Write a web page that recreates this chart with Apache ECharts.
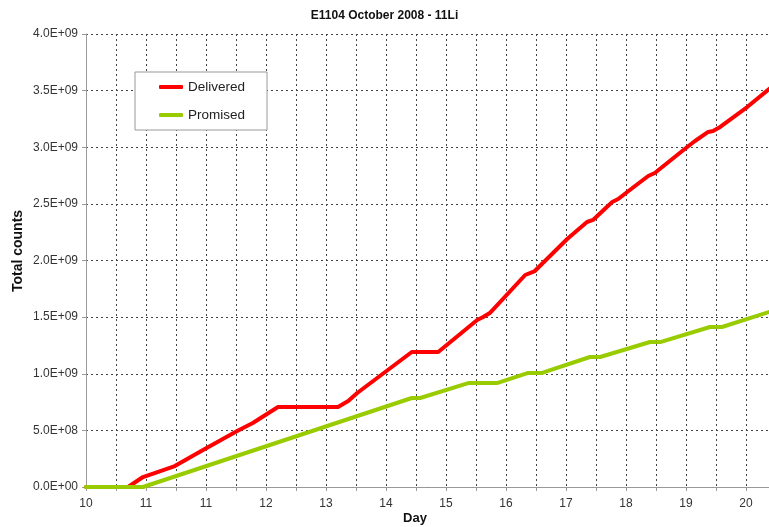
<!DOCTYPE html>
<html>
<head>
<meta charset="utf-8">
<script src="https://cdn.jsdelivr.net/npm/echarts@6/dist/echarts.min.js"></script>
<style>
  html, body { margin: 0; padding: 0; background: #fff; }
  #chart { width: 769px; height: 527px; }
</style>
</head>
<body>
<div id="chart"></div>
<script>
// Position along the day axis, in label steps (label k sits at position k)
const dayTickLabels = ['10', '11', '11', '12', '13', '14', '15', '16', '17', '18', '19', '20'];

// Delivered beam: [axis position, total counts]
const deliveredPos = [0, 0.70, 0.95, 1.48, 1.98, 2.52, 2.78, 3.20, 4.20, 4.37, 4.52, 5.43, 5.87,
  6.52, 6.62, 6.73, 7.32, 7.48, 8.02, 8.35, 8.45, 8.77, 8.87, 9.02, 9.37, 9.48, 10.02, 10.15,
  10.37, 10.45, 10.57, 11.02, 11.40];
const deliveredCounts = [0, 0, 0.088e9, 0.185e9, 0.336e9, 0.494e9, 0.565e9, 0.706e9, 0.706e9,
  0.759e9, 0.830e9, 1.192e9, 1.192e9, 1.475e9, 1.501e9, 1.536e9, 1.872e9, 1.907e9, 2.190e9,
  2.340e9, 2.358e9, 2.517e9, 2.543e9, 2.605e9, 2.746e9, 2.773e9, 3.002e9, 3.055e9, 3.135e9,
  3.143e9, 3.179e9, 3.355e9, 3.52e9];

// Promised beam
const promisedPos = [0, 0.95, 5.43, 5.57, 6.37, 6.85, 7.37, 7.60, 8.40, 8.57, 9.40, 9.57, 10.40, 10.60, 11.40];
const promisedCounts = [0, 0, 0.786e9, 0.786e9, 0.918e9, 0.918e9, 1.007e9, 1.007e9, 1.148e9,
  1.148e9, 1.280e9, 1.280e9, 1.413e9, 1.413e9, 1.548e9];

const pairs = (xs, ys) => xs.map((x, i) => [x, ys[i]]);

const FONT = '"Liberation Sans", Arial, sans-serif';
const GRID_LINE = { show: true, lineStyle: { color: '#444', width: 1, type: [2, 3] } };

function sci(v) {
  const s = Number(v).toExponential(1);          // e.g. "5.0e+8"
  const m = s.match(/^(-?[\d.]+)e([+-])(\d+)$/);
  return m[1] + 'E' + m[2] + m[3].padStart(2, '0');
}

const chart = echarts.init(document.getElementById('chart'), null, { renderer: 'canvas' });
chart.setOption({
  animation: false,
  backgroundColor: '#fff',
  textStyle: { fontFamily: FONT },
  title: {
    text: 'E1104 October 2008 - 11Li',
    left: 'center',
    top: 5,
    textStyle: { fontFamily: FONT, fontSize: 12, fontWeight: 'bold', color: '#111' }
  },
  legend: {
    orient: 'vertical',
    left: 135,
    top: 72,
    padding: [7, 22, 7, 24],
    itemGap: 12,
    itemWidth: 24,
    itemHeight: 4,
    icon: 'roundRect',
    backgroundColor: '#fff',
    borderColor: '#999',
    borderWidth: 1,
    borderRadius: 0,
    textStyle: { fontFamily: FONT, fontSize: 13.5, color: '#222', lineHeight: 16 },
    data: ['Delivered', 'Promised']
  },
  // axis titles
  graphic: [
    {
      type: 'text', x: 415, y: 518, silent: true,
      style: { text: 'Day', font: 'bold 13px ' + FONT, fill: '#111', align: 'center', verticalAlign: 'middle' }
    },
    {
      type: 'text', x: 18, y: 251, rotation: Math.PI / 2, silent: true,
      style: { text: 'Total counts', font: 'bold 14px ' + FONT, fill: '#111', align: 'center', verticalAlign: 'middle' }
    }
  ],
  grid: { left: 86, right: -1, top: 34, bottom: 40, containLabel: false, outerBoundsMode: 'none' },
  xAxis: {
    type: 'value',
    min: 0,
    max: 11.4,
    interval: 0.5,
    axisLine: { show: true, lineStyle: { color: '#999', width: 1 } },
    axisTick: { show: true, length: 4, lineStyle: { color: '#999' } },
    axisLabel: {
      fontFamily: FONT, fontSize: 12, color: '#333', margin: 11,
      showMaxLabel: false,
      formatter: v => (Number.isInteger(v) && dayTickLabels[v] !== undefined) ? dayTickLabels[v] : ''
    },
    splitLine: GRID_LINE
  },
  yAxis: {
    type: 'value',
    min: 0,
    max: 4e9,
    interval: 5e8,
    axisLine: { show: true, lineStyle: { color: '#999', width: 1 } },
    axisTick: { show: true, length: 4, lineStyle: { color: '#999' } },
    axisLabel: { fontFamily: FONT, fontSize: 12, color: '#333', margin: 8, formatter: sci },
    splitLine: GRID_LINE
  },
  series: [
    {
      name: 'Delivered',
      type: 'line',
      data: pairs(deliveredPos, deliveredCounts),
      showSymbol: false,
      symbol: 'none',
      lineStyle: { color: '#ff0000', width: 4, cap: 'round', join: 'round' },
      itemStyle: { color: '#ff0000' }
    },
    {
      name: 'Promised',
      type: 'line',
      data: pairs(promisedPos, promisedCounts),
      showSymbol: false,
      symbol: 'none',
      lineStyle: { color: '#99cc00', width: 4, cap: 'round', join: 'round' },
      itemStyle: { color: '#99cc00' }
    }
  ]
});
</script>
</body>
</html>
